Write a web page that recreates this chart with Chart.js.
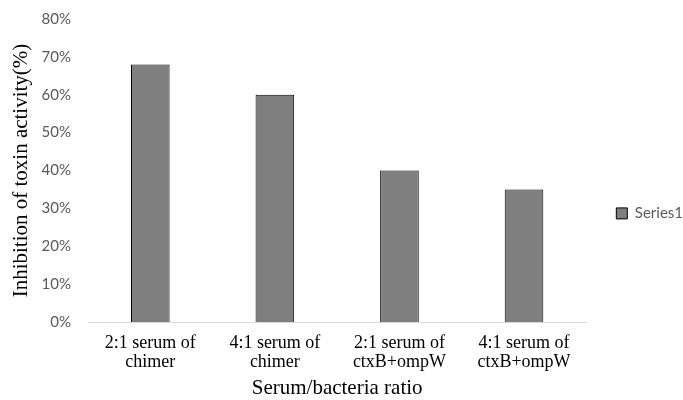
<!DOCTYPE html>
<html>
<head>
<meta charset="utf-8">
<script src="https://cdn.jsdelivr.net/npm/chart.js@4"></script>
<style>
  body { margin: 0; background: #fff; }
  #wrap { width: 683px; height: 400px; }
</style>
</head>
<body>
<div id="wrap"><canvas id="myChart" width="683" height="400"></canvas></div>
<script>
'use strict';

let categories = [
  ['2:1 serum of', 'chimer'],
  ['4:1 serum of', 'chimer'],
  ['2:1 serum of', 'ctxB+ompW'],
  ['4:1 serum of', 'ctxB+ompW']
];
let seriesName = 'Series1';
let inhibition = [68, 60, 40, 35];
let yTicks = [0, 10, 20, 30, 40, 50, 60, 70, 80];

let ctx = document.getElementById('myChart');

new Chart(ctx, {
  type: 'bar',
  data: {
    labels: categories,
    datasets: [{
      label: seriesName,
      data: inhibition,
      backgroundColor: '#7f7f7f',
      borderColor: '#000000',
      borderWidth: 1,
      barPercentage: 0.31,
      categoryPercentage: 1
    }]
  },
  options: {
    responsive: false,
    animation: false,
    layout: {
      padding: { top: 0, right: -10, left: 4, bottom: 0 }
    },
    plugins: {
      legend: {
        position: 'right',
        title: {
          display: true,
          text: ' ',
          padding: { top: 10, bottom: 0 },
          font: { size: 14 }
        },
        labels: {
          boxWidth: 11,
          boxHeight: 11,
          padding: 2,
          color: '#595959',
          font: { family: 'Lato', size: 15 }
        }
      },
      tooltip: { enabled: false }
    },
    scales: {
      x: {
        grid: { display: false, drawTicks: false },
        border: { color: '#d9d9d9', width: 1 },
        ticks: {
          color: '#000000',
          padding: 11,
          maxRotation: 0,
          font: { family: 'Liberation Serif', size: 18, lineHeight: 1.1 }
        },
        title: {
          display: true,
          text: 'Serum/bacteria ratio',
          color: '#000000',
          padding: 0,
          font: { family: 'Liberation Serif', size: 21, lineHeight: 1.1 }
        },
        afterFit: function(axis) {
          axis.height = 78;
        }
      },
      y: {
        min: 0,
        max: 80,
        afterBuildTicks: function(axis) {
          axis.ticks = yTicks.map(v => ({ value: v }));
        },
        grid: { display: false, drawTicks: false },
        border: { display: false },
        ticks: {
          color: '#595959',
          padding: 17,
          // small line height keeps the top label from pushing the plot down
          font: { family: 'Lato', size: 15, lineHeight: 0.27 },
          callback: function(value) {
            return value + '%';
          }
        },
        title: {
          display: true,
          text: 'Inhibition of toxin activity(%)',
          color: '#000000',
          padding: { top: 6, bottom: 0 },
          font: { family: 'Liberation Serif', size: 21, lineHeight: 1.1 }
        },
        afterFit: function(axis) {
          axis.width = 84;
        }
      },
      // empty gap between plot area and legend
      gap: {
        position: 'right',
        display: true,
        grid: { display: false, drawTicks: false },
        border: { display: false },
        ticks: { display: false },
        afterFit: function(axis) {
          axis.width = 28;
        }
      }
    }
  }
});
</script>
</body>
</html>
